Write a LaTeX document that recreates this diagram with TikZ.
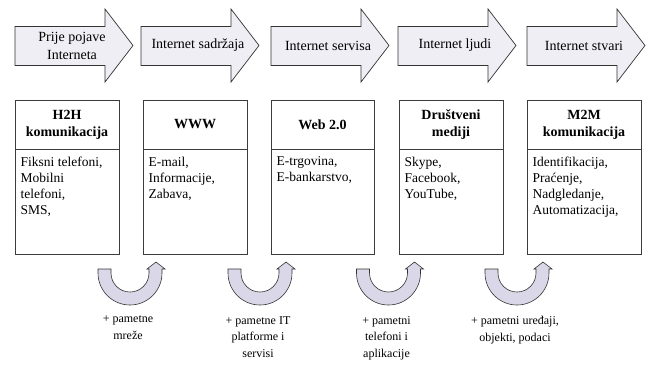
\documentclass[tikz,border=0pt]{standalone}
\usepackage{fontspec}
\setmainfont{Liberation Serif}
\usetikzlibrary{positioning}

\definecolor{stagefill}{RGB}{239,238,245}
\definecolor{turnfill}{RGB}{218,215,232}
\definecolor{boxline}{RGB}{60,60,60}

\begin{document}
\begin{tikzpicture}[x=1pt, y=-1pt,
	stage/.style={draw=black!80, fill=stagefill, line width=0.7pt, line join=miter},
	stagetext/.style={align=center, font=\fontsize{14}{18}\selectfont, inner sep=0pt},
	framebox/.style={draw=boxline, line width=1pt},
	headtext/.style={align=center, font=\fontsize{14}{17}\selectfont\bfseries, inner sep=0pt},
	listtext/.style={align=left, font=\fontsize{13.5}{16}\selectfont, inner sep=0pt, anchor=north west},
	turn/.style={draw=black!80, fill=turnfill, line width=0.6pt, line join=miter},
	gain/.style={align=center, font=\fontsize{12}{16.5}\selectfont, inner sep=0pt, anchor=north}]
	\useasboundingbox (0,0) rectangle (651,365);

	\foreach \cx/\txt [count=\i] in {74/{Prije pojave\\Interneta}, 200/{Internet sadržaja}, 330/{Internet servisa}, 457/{Internet ljudi}, 586/{Internet stvari}} {
		\draw[stage] (\cx-59,26.5) -- (\cx+31,26.5) -- (\cx+31,9) -- (\cx+59,45.5) -- (\cx+31,82) -- (\cx+31,65.5) -- (\cx-59,65.5) -- cycle;
		\node[stagetext] (stage\i) at (\cx-2,45.5) {\txt};
	}

	\foreach \l/\r/\hd/\items [count=\i] in {15/119/{H2H\\komunikacija}/{Fiksni telefoni,\\Mobilni\\telefoni,\\SMS,}, 143/247/{WWW}/{E-mail,\\Informacije,\\Zabava,}, 271/374/{Web 2.0}/{E-trgovina,\\E-bankarstvo,}, 399/503/{Društveni\\mediji}/{Skype,\\Facebook,\\YouTube,}, 527/641/{M2M\\komunikacija}/{Identifikacija,\\Praćenje,\\Nadgledanje,\\Automatizacija,}} {
		\draw[framebox] (\l,100.5) rectangle (\r,254.5);
		\draw[framebox] (\l,149) -- (\r,149);
		\node[headtext] (head\i) at ({(\l+\r)/2},124.5) {\hd};
		\node[listtext] (items\i) at (\l+5.5,156.5) {\items};
	}

	\foreach \cx/\txt [count=\i] in {130/{+ pametne\\mreže}, 260/{+ pametne IT\\platforme i\\servisi}, 388.5/{+ pametni\\telefoni i\\aplikacije}, 517/{+ pametni uređaji,\\objekti, podaci}} {
		\draw[turn] (\cx-32,269) -- (\cx-32,273) arc[start angle=180, end angle=0, radius=32] -- (\cx+32,269) -- (\cx+35,269) -- (\cx+26,262) -- (\cx+17,269) -- (\cx+19,269) -- (\cx+19,273) arc[start angle=0, end angle=180, radius=19] -- (\cx-19,269) -- cycle;
		\node[gain] (gain\i) at (\cx-2,316) {\txt};
	}
\end{tikzpicture}
\end{document}
